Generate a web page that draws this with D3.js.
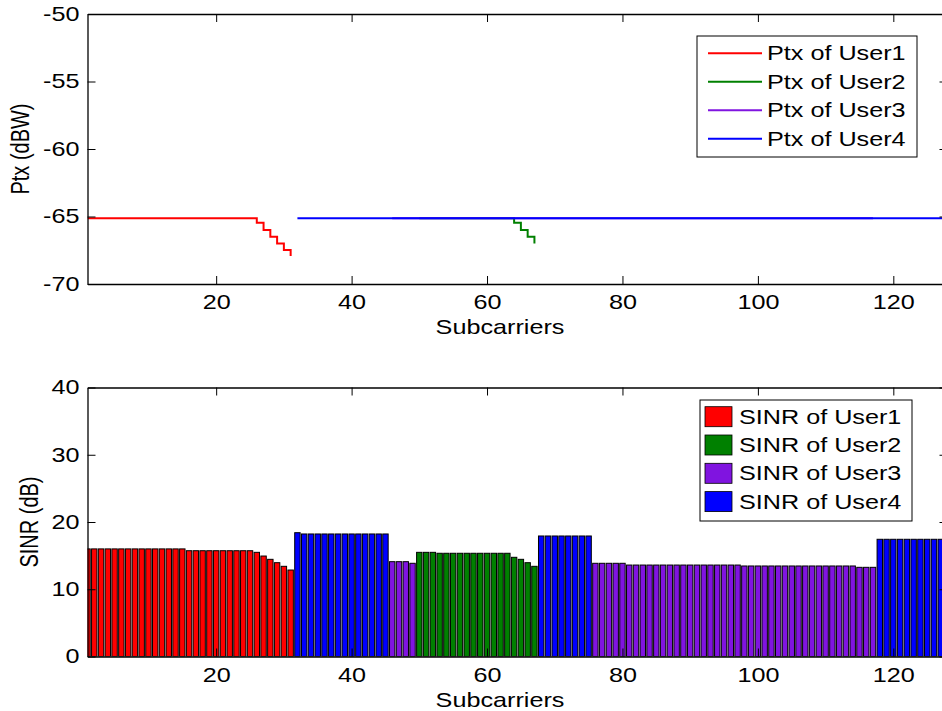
<!DOCTYPE html>
<html>
<head>
<meta charset="utf-8">
<script src="https://cdn.jsdelivr.net/npm/d3@7"></script>
<style>
  body { margin: 0; background: #fff; }
  svg { display: block; }
  text { font-family: "Liberation Sans", Arial, sans-serif; fill: #000; }
</style>
</head>
<body>
<div id="vis"></div>
<script>
// ---- data ----
const userNames = ["User1", "User2", "User3", "User4"];
const userColors = ["#ff0000", "#008000", "#8014e0", "#0000ff"];

// subcarrier blocks: first, last, owner (0-based user index)
const allocFirst = [1, 32, 46, 50, 68, 76, 118];
const allocLast  = [31, 45, 49, 67, 75, 117, 128];
const allocUser  = [0, 3, 2, 1, 3, 2, 3];

// SINR (dB) per subcarrier 1..128
const sinr = [
  16.0, 16.0, 16.0, 16.0, 16.0, 16.0, 16.0, 16.0, 16.0, 16.0,
  16.0, 16.0, 16.0, 16.0, 16.0, 15.73, 15.73, 15.73, 15.73, 15.73,
  15.73, 15.73, 15.73, 15.73, 15.73, 15.49, 14.94, 14.45, 13.95, 13.41,
  12.86, 18.41, 18.22, 18.22, 18.22, 18.22, 18.22, 18.22, 18.22, 18.22,
  18.22, 18.22, 18.22, 18.22, 18.22, 14.1, 14.1, 14.1, 13.86, 15.49,
  15.49, 15.49, 15.35, 15.35, 15.35, 15.35, 15.35, 15.35, 15.35, 15.35,
  15.35, 15.35, 15.35, 14.75, 14.45, 13.95, 13.41, 17.92, 17.92, 17.92,
  17.92, 17.92, 17.92, 17.92, 17.92, 13.86, 13.86, 13.86, 13.86, 13.86,
  13.6, 13.6, 13.6, 13.6, 13.6, 13.6, 13.6, 13.6, 13.6, 13.6,
  13.6, 13.6, 13.6, 13.6, 13.6, 13.6, 13.6, 13.46, 13.46, 13.46,
  13.46, 13.46, 13.46, 13.46, 13.46, 13.46, 13.46, 13.46, 13.46, 13.46,
  13.46, 13.46, 13.46, 13.46, 13.26, 13.26, 13.26, 17.43, 17.43, 17.43,
  17.43, 17.43, 17.43, 17.43, 17.43, 17.43, 17.43, 17.43
];

// Ptx (dBW) per user, starting at subcarrier ptxStart[u]
const ptxStart = [1, 50, 46, 32];
const ptx1 = [
  -65.13, -65.13, -65.13, -65.13, -65.13, -65.13, -65.13, -65.13, -65.13, -65.13,
  -65.13, -65.13, -65.13, -65.13, -65.13, -65.13, -65.13, -65.13, -65.13, -65.13,
  -65.13, -65.13, -65.13, -65.13, -65.13, -65.46, -66.0, -66.5, -67.0, -67.48,
  -67.93
];
const ptx2 = [
  -65.13, -65.13, -65.13, -65.13, -65.13, -65.13, -65.13, -65.13, -65.13, -65.13,
  -65.13, -65.13, -65.13, -65.13, -65.46, -66.0, -66.5, -67.0
];
const ptx3 = [
  -65.13, -65.13, -65.13, -65.13, -65.13, -65.13, -65.13, -65.13, -65.13, -65.13,
  -65.13, -65.13, -65.13, -65.13, -65.13, -65.13, -65.13, -65.13, -65.13, -65.13,
  -65.13, -65.13, -65.13, -65.13, -65.13, -65.13, -65.13, -65.13, -65.13, -65.13,
  -65.13, -65.13, -65.13, -65.13, -65.13, -65.13, -65.13, -65.13, -65.13, -65.13,
  -65.13, -65.13, -65.13, -65.13, -65.13, -65.13, -65.13, -65.13, -65.13, -65.13,
  -65.13, -65.13, -65.13, -65.13, -65.13, -65.13, -65.13, -65.13, -65.13, -65.13,
  -65.13, -65.13, -65.13, -65.13, -65.13, -65.13, -65.13, -65.13, -65.13, -65.13,
  -65.13, -65.13
];
const ptx4 = [
  -65.13, -65.13, -65.13, -65.13, -65.13, -65.13, -65.13, -65.13, -65.13, -65.13,
  -65.13, -65.13, -65.13, -65.13, -65.13, -65.13, -65.13, -65.13, -65.13, -65.13,
  -65.13, -65.13, -65.13, -65.13, -65.13, -65.13, -65.13, -65.13, -65.13, -65.13,
  -65.13, -65.13, -65.13, -65.13, -65.13, -65.13, -65.13, -65.13, -65.13, -65.13,
  -65.13, -65.13, -65.13, -65.13, -65.13, -65.13, -65.13, -65.13, -65.13, -65.13,
  -65.13, -65.13, -65.13, -65.13, -65.13, -65.13, -65.13, -65.13, -65.13, -65.13,
  -65.13, -65.13, -65.13, -65.13, -65.13, -65.13, -65.13, -65.13, -65.13, -65.13,
  -65.13, -65.13, -65.13, -65.13, -65.13, -65.13, -65.13, -65.13, -65.13, -65.13,
  -65.13, -65.13, -65.13, -65.13, -65.13, -65.13, -65.13, -65.13, -65.13, -65.13,
  -65.13, -65.13, -65.13, -65.13, -65.13, -65.13, -65.13
];
const ptxAll = [ptx1, ptx2, ptx3, ptx4];

const xTicks = [20, 40, 60, 80, 100, 120];
const ptxTicks = [-70, -65, -60, -55, -50];
const sinrTicks = [0, 10, 20, 30, 40];

// ---- layout ----
const width = 942, height = 711;
const SX = 1.26;          // the picture's text is stretched sideways
const FS = 20;
const left = 87.5, right = 947.5;
const top1 = {top: 14, bottom: 284};
const top2 = {top: 387.5, bottom: 656.5};
const xTitleX = 500;

const svg = d3.select("#vis").append("svg")
  .attr("width", width).attr("height", height);

const x = d3.scaleLinear().domain([1, 128]).range([left, right]);
const y1 = d3.scaleLinear().domain([-70, -50]).range([top1.bottom, top1.top]);
const y2 = d3.scaleLinear().domain([0, 40]).range([top2.bottom, top2.top]);

// plain hyphen for negatives, like the original
const plain = d => String(d);

function addText(g, px, py, s, anchor, rot) {
  return g.append("text")
    .attr("transform", `translate(${px},${py}) scale(${SX},1)` + (rot ? ` rotate(${rot})` : ""))
    .attr("text-anchor", anchor)
    .attr("dy", "0.35em")
    .style("font-size", FS + "px")
    .text(s);
}

// clip paths
const defs = svg.append("defs");
[top1, top2].forEach(function (b, i) {
  defs.append("clipPath").attr("id", "clip" + i)
    .append("rect")
    .attr("x", left).attr("y", b.top)
    .attr("width", right - left).attr("height", b.bottom - b.top);
});

// draw axes box with inward ticks on all sides
function drawFrame(y, b, yTicks, xTitle, yTitle, yTitleX) {
  const gx = svg.append("g")
    .attr("transform", `translate(0,${b.bottom})`)
    .call(d3.axisBottom(x).tickValues(xTicks).tickFormat(plain)
      .tickSizeInner(-8).tickSizeOuter(0).tickPadding(11));
  gx.selectAll("text")
    .attr("transform", `scale(${SX},1)`)
    .style("font-size", FS + "px");

  svg.append("g")
    .attr("transform", `translate(0,${b.top})`)
    .call(d3.axisTop(x).tickValues(xTicks).tickSizeInner(-8).tickSizeOuter(0).tickFormat(""));

  const gy = svg.append("g")
    .attr("transform", `translate(${left},0)`)
    .call(d3.axisLeft(y).tickValues(yTicks).tickFormat(plain)
      .tickSizeInner(-8).tickSizeOuter(0).tickPadding(8));
  gy.selectAll("text")
    .attr("x", -8 / SX)
    .attr("transform", `scale(${SX},1)`)
    .style("font-size", FS + "px");

  svg.append("g")
    .attr("transform", `translate(${right},0)`)
    .call(d3.axisRight(y).tickValues(yTicks).tickSizeInner(-8).tickSizeOuter(0).tickFormat(""));

  svg.selectAll(".domain").attr("stroke", "#000").attr("stroke-width", 1.3);
  svg.selectAll(".tick line").attr("stroke", "#000").attr("stroke-width", 1);
  svg.selectAll(".tick text").attr("fill", "#000").style("font-family", '"Liberation Sans", Arial, sans-serif');

  addText(svg, xTitleX, b.bottom + 43, xTitle, "middle");
  addText(svg, yTitleX, (b.top + b.bottom) / 2, yTitle, "middle", -90);
}

// ---- top: Ptx stairs ----
const plot1 = svg.append("g").attr("clip-path", "url(#clip0)");
const stairs = d3.line()
  .x(d => x(d[0]))
  .y(d => y1(d[1]))
  .curve(d3.curveStepAfter);

ptxAll.forEach(function (vals, u) {
  const pts = vals.map((v, i) => [ptxStart[u] + i, v]);
  plot1.append("path")
    .datum(pts)
    .attr("fill", "none")
    .attr("stroke", userColors[u])
    .attr("stroke-width", 2)
    .attr("d", stairs);
});

drawFrame(y1, top1, ptxTicks, "Subcarriers", "Ptx (dBW)", 20);

// ---- bottom: SINR bars ----
function ownerOf(k) {
  for (let i = 0; i < allocFirst.length; i++) {
    if (k >= allocFirst[i] && k <= allocLast[i]) return allocUser[i];
  }
  return 0;
}
const bw = x(1.8) - x(1);
const plot2 = svg.append("g").attr("clip-path", "url(#clip1)");
plot2.selectAll("rect")
  .data(sinr)
  .join("rect")
  .attr("x", (d, i) => x(i + 1) - bw / 2)
  .attr("y", d => y2(d))
  .attr("width", bw)
  .attr("height", d => y2(0) - y2(d))
  .attr("fill", (d, i) => userColors[ownerOf(i + 1)])
  .attr("stroke", "#000")
  .attr("stroke-width", 1);

drawFrame(y2, top2, sinrTicks, "Subcarriers", "SINR (dB)", 29);

// ---- legends ----
const leg1 = svg.append("g");
leg1.append("rect")
  .attr("x", 697).attr("y", 36).attr("width", 220).attr("height", 121)
  .attr("fill", "#fff").attr("stroke", "#000").attr("stroke-width", 1);
userNames.forEach(function (n, i) {
  const ry = 53.3 + i * 28.5;
  leg1.append("line")
    .attr("x1", 708).attr("x2", 762).attr("y1", ry).attr("y2", ry)
    .attr("stroke", userColors[i]).attr("stroke-width", 2);
  addText(leg1, 767, ry, "Ptx of " + n, "start");
});

const leg2 = svg.append("g");
leg2.append("rect")
  .attr("x", 700).attr("y", 400).attr("width", 212).attr("height", 121)
  .attr("fill", "#fff").attr("stroke", "#000").attr("stroke-width", 1);
userNames.forEach(function (n, i) {
  const ry = 416.7 + i * 28.3;
  leg2.append("rect")
    .attr("x", 705).attr("y", ry - 10).attr("width", 27).attr("height", 20)
    .attr("fill", userColors[i]).attr("stroke", "#000").attr("stroke-width", 0.8);
  addText(leg2, 739, ry, "SINR of " + n, "start");
});
</script>
</body>
</html>
